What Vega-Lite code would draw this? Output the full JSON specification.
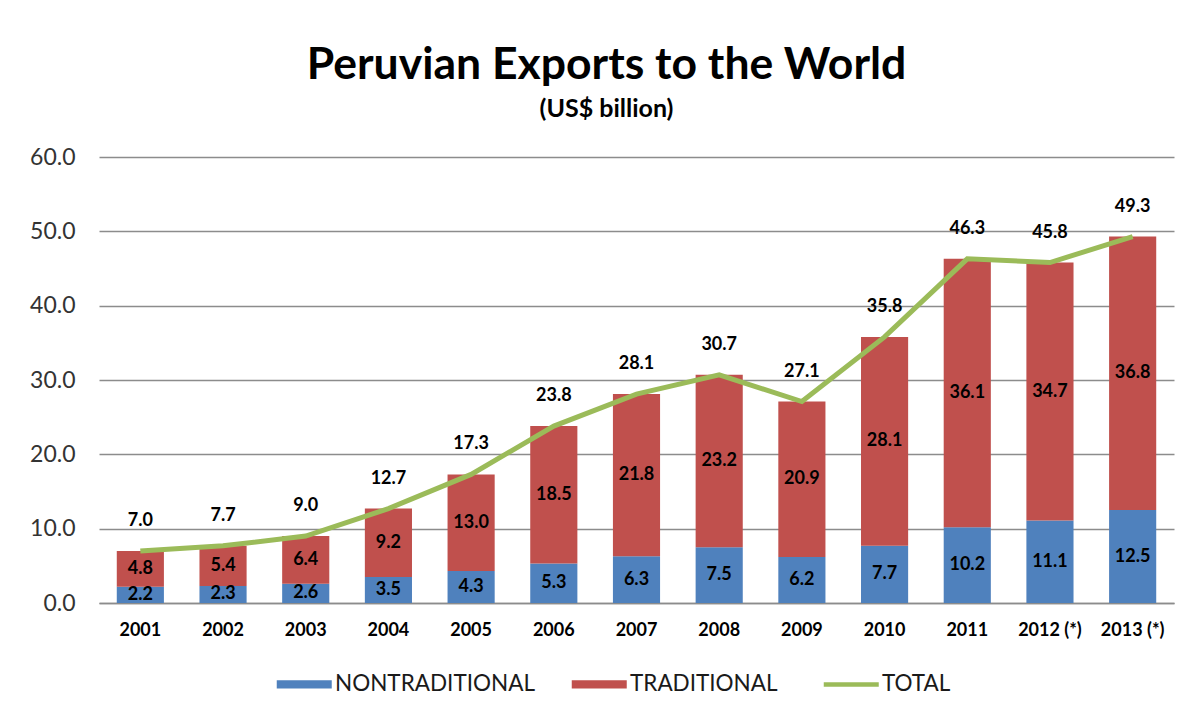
{
  "$schema": "https://vega.github.io/schema/vega-lite/v6.json",
  "width": 1075,
  "height": 446,
  "autosize": {"type": "none"},
  "padding": {"left": 99, "top": 157, "right": 11, "bottom": 117},
  "background": "white",
  "config": {
    "font": "Lato",
    "view": {"stroke": null},
    "axisY": {
      "labelFont": "Lato",
      "labelFontSize": 23,
      "labelColor": "#333333",
      "labelPadding": 24,
      "ticks": false,
      "tickSize": 0,
      "domain": false,
      "grid": true,
      "gridColor": "#8c8c8c",
      "gridWidth": 1.5
    },
    "axisX": {
      "labelFont": "Lato",
      "labelFontSize": 18,
      "labelFontWeight": "bold",
      "labelColor": "#000000",
      "labelPadding": 18,
      "labelAngle": 0,
      "ticks": false,
      "tickSize": 0,
      "grid": false,
      "domainColor": "#8c8c8c",
      "domainWidth": 1.5
    }
  },
  "title": {
    "text": "Peruvian Exports to the World",
    "subtitle": "(US$ billion)",
    "font": "Lato",
    "fontSize": 44.5,
    "fontWeight": "bold",
    "color": "#000000",
    "subtitleFont": "Lato",
    "subtitleFontSize": 25,
    "subtitleFontWeight": "bold",
    "subtitleColor": "#000000",
    "subtitlePadding": 9,
    "anchor": "middle",
    "frame": "group",
    "dx": -30,
    "offset": 23
  },
  "data": {
    "values": [
      {"year": "2001", "series": "NONTRADITIONAL", "value": 2.2},
      {"year": "2002", "series": "NONTRADITIONAL", "value": 2.3},
      {"year": "2003", "series": "NONTRADITIONAL", "value": 2.6},
      {"year": "2004", "series": "NONTRADITIONAL", "value": 3.5},
      {"year": "2005", "series": "NONTRADITIONAL", "value": 4.3},
      {"year": "2006", "series": "NONTRADITIONAL", "value": 5.3},
      {"year": "2007", "series": "NONTRADITIONAL", "value": 6.3},
      {"year": "2008", "series": "NONTRADITIONAL", "value": 7.5},
      {"year": "2009", "series": "NONTRADITIONAL", "value": 6.2},
      {"year": "2010", "series": "NONTRADITIONAL", "value": 7.7},
      {"year": "2011", "series": "NONTRADITIONAL", "value": 10.2},
      {"year": "2012 (*)", "series": "NONTRADITIONAL", "value": 11.1},
      {"year": "2013 (*)", "series": "NONTRADITIONAL", "value": 12.5},
      {"year": "2001", "series": "TRADITIONAL", "value": 4.8},
      {"year": "2002", "series": "TRADITIONAL", "value": 5.4},
      {"year": "2003", "series": "TRADITIONAL", "value": 6.4},
      {"year": "2004", "series": "TRADITIONAL", "value": 9.2},
      {"year": "2005", "series": "TRADITIONAL", "value": 13.0},
      {"year": "2006", "series": "TRADITIONAL", "value": 18.5},
      {"year": "2007", "series": "TRADITIONAL", "value": 21.8},
      {"year": "2008", "series": "TRADITIONAL", "value": 23.2},
      {"year": "2009", "series": "TRADITIONAL", "value": 20.9},
      {"year": "2010", "series": "TRADITIONAL", "value": 28.1},
      {"year": "2011", "series": "TRADITIONAL", "value": 36.1},
      {"year": "2012 (*)", "series": "TRADITIONAL", "value": 34.7},
      {"year": "2013 (*)", "series": "TRADITIONAL", "value": 36.8},
      {"year": "2001", "series": "TOTAL", "value": 7.0},
      {"year": "2002", "series": "TOTAL", "value": 7.7},
      {"year": "2003", "series": "TOTAL", "value": 9.0},
      {"year": "2004", "series": "TOTAL", "value": 12.7},
      {"year": "2005", "series": "TOTAL", "value": 17.3},
      {"year": "2006", "series": "TOTAL", "value": 23.8},
      {"year": "2007", "series": "TOTAL", "value": 28.1},
      {"year": "2008", "series": "TOTAL", "value": 30.7},
      {"year": "2009", "series": "TOTAL", "value": 27.1},
      {"year": "2010", "series": "TOTAL", "value": 35.8},
      {"year": "2011", "series": "TOTAL", "value": 46.3},
      {"year": "2012 (*)", "series": "TOTAL", "value": 45.8},
      {"year": "2013 (*)", "series": "TOTAL", "value": 49.3}
    ]
  },
  "encoding": {
    "x": {
      "field": "year",
      "type": "nominal",
      "sort": ["2001", "2002", "2003", "2004", "2005", "2006", "2007", "2008", "2009", "2010", "2011", "2012 (*)", "2013 (*)"],
      "scale": {"paddingInner": 0.43, "paddingOuter": 0.215},
      "axis": {"title": null}
    }
  },
  "layer": [
    {
      "transform": [{"filter": "datum.series !== 'TOTAL'"}],
      "mark": {"type": "bar"},
      "encoding": {
        "y": {
          "field": "value",
          "type": "quantitative",
          "stack": "zero",
          "scale": {"domain": [0, 60], "nice": false},
          "axis": {
            "title": null,
            "values": [0, 10, 20, 30, 40, 50, 60],
            "format": ".1f"
          }
        },
        "order": {"field": "series", "sort": "ascending"},
        "color": {
          "field": "series",
          "type": "nominal",
          "scale": {
            "domain": ["NONTRADITIONAL", "TRADITIONAL", "TOTAL"],
            "range": ["#4F81BD", "#C0504D", "#9BBB59"]
          },
          "legend": {
            "orient": "none",
            "legendX": 194,
            "legendY": 516,
            "direction": "horizontal",
            "title": null,
            "labelFont": "Lato",
            "labelFontSize": 22.5,
            "labelColor": "#1a1a1a",
            "labelOffset": 19.5,
            "labelLimit": 0,
            "columnPadding": 36,
            "symbolSize": 3025,
            "symbolType": "M-1,-0.15H1V0.15H-1Z",
            "symbolStrokeWidth": 0,
            "encode": {
              "symbols": {
                "update": {
                  "shape": {"signal": "datum.value === 'TOTAL' ? 'stroke' : 'M-1,-0.15H1V0.15H-1Z'"},
                  "fill": {"signal": "datum.value === 'TOTAL' ? 'transparent' : scale('color', datum.value)"},
                  "stroke": {"signal": "scale('color', datum.value)"},
                  "strokeWidth": {"signal": "datum.value === 'TOTAL' ? 4.5 : 0"},
                  "opacity": {"value": 1}
                }
              }
            }
          }
        }
      }
    },
    {
      "transform": [
        {"filter": "datum.series !== 'TOTAL'"},
        {"stack": "value", "groupby": ["year"], "sort": [{"field": "series", "order": "ascending"}], "as": ["v0", "v1"]},
        {"fold": ["v0", "v1"], "as": ["edge", "pos"]},
        {"aggregate": [{"op": "mean", "field": "pos", "as": "mid"}], "groupby": ["year", "series", "value"]}
      ],
      "mark": {"type": "text", "font": "Lato", "fontSize": 18, "fontWeight": "bold", "color": "#000000", "baseline": "middle"},
      "encoding": {
        "y": {"field": "mid", "type": "quantitative"},
        "text": {"field": "value", "type": "quantitative", "format": ".1f"}
      }
    },
    {
      "transform": [{"filter": "datum.series === 'TOTAL'"}],
      "mark": {"type": "line", "strokeWidth": 5, "color": "#9BBB59"},
      "encoding": {
        "y": {"field": "value", "type": "quantitative"},
        "color": {"field": "series", "type": "nominal"}
      }
    },
    {
      "transform": [{"filter": "datum.series === 'TOTAL'"}],
      "mark": {"type": "text", "font": "Lato", "fontSize": 18, "fontWeight": "bold", "color": "#000000", "baseline": "middle", "dy": -30},
      "encoding": {
        "y": {"field": "value", "type": "quantitative"},
        "text": {"field": "value", "type": "quantitative", "format": ".1f"}
      }
    }
  ]
}
